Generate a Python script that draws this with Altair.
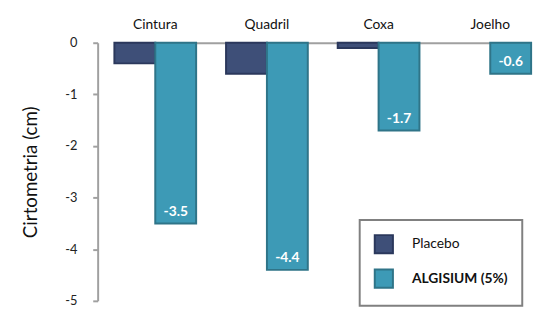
import altair as alt
import pandas as pd

categories = ["Cintura", "Quadril", "Coxa", "Joelho"]
series = ["Placebo", "ALGISIUM (5%)"]
placebo = [-0.4, -0.6, -0.1, 0.0]
algisium = [-3.5, -4.4, -1.7, -0.6]

rows = []
for c, p, a in zip(categories, placebo, algisium):
    rows.append({"cat": c, "serie": series[0], "val": p, "lbl": f"{p:.1f}"})
    rows.append({"cat": c, "serie": series[1], "val": a, "lbl": f"{a:.1f}"})
df = pd.DataFrame(rows)

fills = ["#3E4F78", "#3D9AB6"]
strokes = ["#2B385C", "#2F7488"]
FONT = "Lato"

xscale = alt.Scale(domain=categories, paddingInner=0.268, paddingOuter=0, range=[17, 440])
xoff = alt.XOffset("serie:N", sort=series, scale=alt.Scale(domain=series))

x = alt.X("cat:N", sort=categories, title=None, scale=xscale,
          axis=alt.Axis(orient="top", ticks=False, domainColor="#A0A0A0",
                        domainWidth=2, labelFontSize=14, labelColor="#111",
                        labelFont=FONT, labelPadding=11, labelAngle=0))
y = alt.Y("val:Q", title="Cirtometria (cm)",
          scale=alt.Scale(domain=[-5, 0], nice=False),
          axis=alt.Axis(values=[0, -1, -2, -3, -4, -5], grid=False,
                        labelExpr="'' + datum.value",
                        domainColor="#A0A0A0", domainWidth=2,
                        tickColor="#A0A0A0", tickWidth=2, tickSize=5,
                        labelFontSize=13, labelColor="#222", labelFont=FONT,
                        labelPadding=16, titleFontSize=19, titleFont=FONT,
                        titleFontWeight="normal", titleColor="#111",
                        titlePadding=25))

bars = alt.Chart(df).transform_filter(alt.datum.val != 0).mark_bar(strokeWidth=2).encode(
    x=x, y=y,
    xOffset=xoff,
    fill=alt.Fill("serie:N", sort=series, title=None,
                  scale=alt.Scale(domain=series, range=fills),
                  legend=alt.Legend(orient="none", legendX=266, legendY=180,
                                    strokeColor="#808080",
                                    padding=14, rowPadding=8,
                                    symbolType="square", symbolSize=340,
                                    symbolStrokeWidth=2,
                                    labelFont=FONT, labelFontSize=14,
                                    labelColor="#111", labelOffset=18,
                                    labelFontWeight={"expr": "datum.value == 'Placebo' ? 'normal' : 'bold'"})),
    stroke=alt.Stroke("serie:N", sort=series, title=None,
                      scale=alt.Scale(domain=series, range=strokes)),
)

text = alt.Chart(df).transform_filter(
    alt.datum.serie == series[1]
).mark_text(color="white", fontWeight="bold", fontSize=14, font=FONT,
            baseline="middle", dy=-12).encode(
    x=alt.X("cat:N", sort=categories, scale=xscale),
    xOffset=xoff,
    y=alt.Y("val:Q"),
    text="lbl:N",
)

chart = alt.layer(bars, text).properties(
    width=448, height=262,
    autosize=alt.AutoSizeParams(type="none"),
    padding={"left": 91, "top": 33, "right": 0, "bottom": 5},
).configure_view(stroke=None).configure_legend(strokeWidth=2)

chart.save("out.html", embed_options={"renderer": "svg", "actions": False})
